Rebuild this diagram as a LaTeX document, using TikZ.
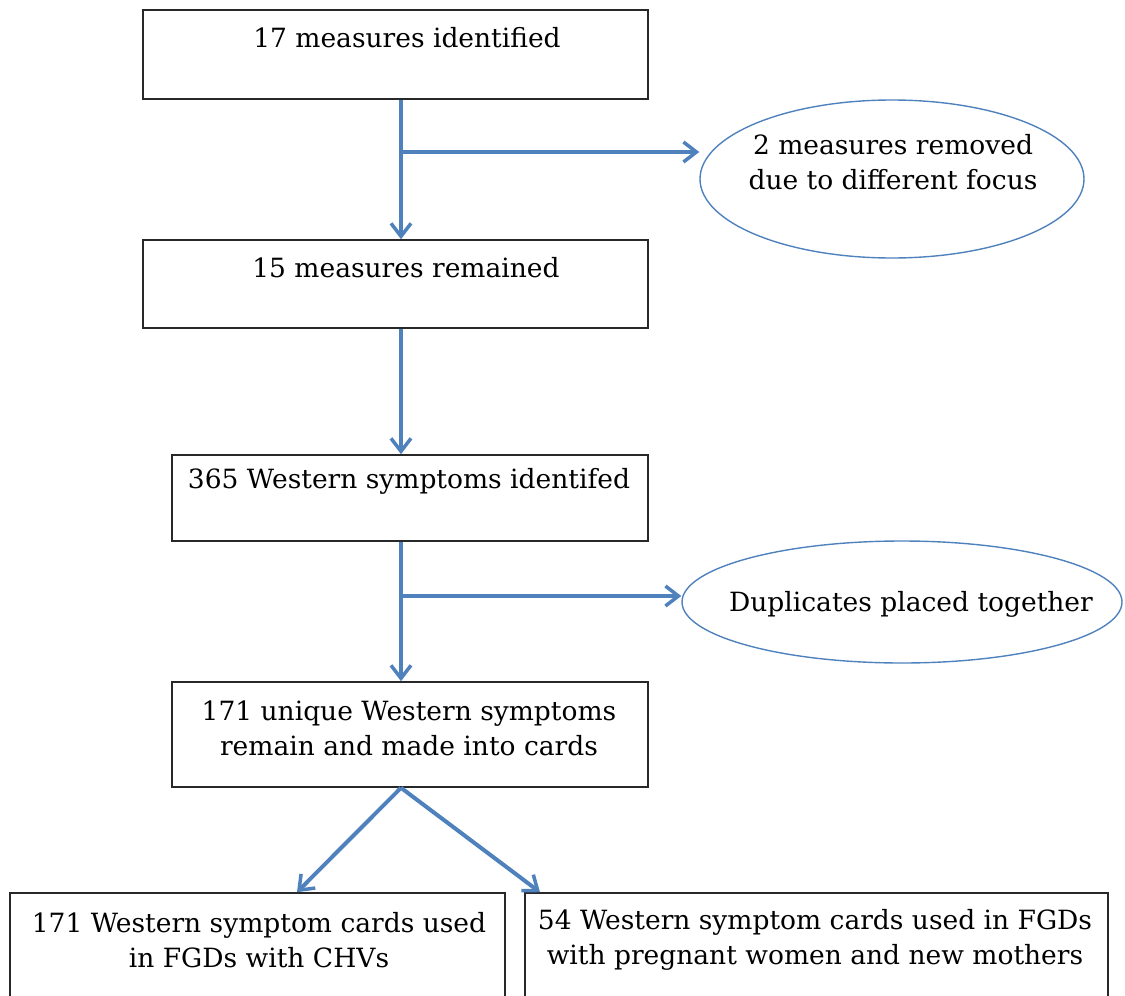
\documentclass[tikz,border=0pt]{standalone}
\usepackage{fontspec}
\setmainfont{DejaVu Serif}
\usetikzlibrary{arrows.meta,shapes.geometric}
\definecolor{flowblue}{RGB}{79,129,189}
\definecolor{boxline}{RGB}{40,40,40}
\begin{document}
\begin{tikzpicture}[x=1pt,y=-1pt,
  box/.style={draw=boxline,line width=1.6pt,rectangle,inner sep=0pt},
  oval/.style={draw=flowblue,line width=1.4pt,ellipse,inner sep=0pt},
  txt/.style={inner sep=0pt,align=center,font=\fontsize{26.5}{35}\selectfont},
  flow/.style={draw=flowblue,line width=4pt,-{Straight Barb[length=13pt,width=20pt,line width=3.5pt]}},
  flowline/.style={draw=flowblue,line width=4pt}]
\useasboundingbox (0,0) rectangle (1125,996);
\clip (0,0) rectangle (1125,996);
% boxes
\node[box,minimum width=505pt,minimum height=89pt] (b1) at (395.5,54.5) {};
\node[box,minimum width=505pt,minimum height=88pt] (b2) at (395.5,284) {};
\node[box,minimum width=476pt,minimum height=86pt] (b3) at (410,498) {};
\node[box,minimum width=476pt,minimum height=105pt] (b4) at (410,734.5) {};
\node[box,minimum width=495pt,minimum height=130pt] (b5) at (257.5,958) {};
\node[box,minimum width=583pt,minimum height=130pt] (b6) at (816.5,958) {};
% ellipses
\node[oval,minimum width=384pt,minimum height=158pt] (e1) at (892,179) {};
\node[oval,minimum width=440pt,minimum height=122pt] (e2) at (902,602) {};
% texts
\node[txt] (t1) at (407,38) {17 measures identified};
\node[txt] (t2) at (406,268) {15 measures remained};
\node[txt] (t3) at (409,481) {365 Western symptoms identifed};
\node[txt] (t4) at (409,728) {171 unique Western symptoms\\remain and made into cards};
\node[txt] (t5) at (259,940) {171 Western symptom cards used\\in FGDs with CHVs};
\node[txt] (t6) at (815,940) {54 Western symptom cards used in FGDs\\with pregnant women and new mothers};
\node[txt] (te1) at (893,162) {2 measures removed\\due to different focus};
\node[txt] (te2) at (911,604) {Duplicates placed together};
% junctions
\coordinate (j1) at (401,152);
\coordinate (j2) at (401,596);
% connectors
\draw[flow] ([xshift=5.5pt]b1.south) -- ([xshift=5.5pt]b2.north);
\draw[flow] (j1) -- (j1 -| e1.west);
\draw[flow] ([xshift=5.5pt]b2.south) -- ([xshift=5.5pt]b3.north west -| b2.south);
\draw[flow] ([xshift=-9pt]b3.south) -- ([xshift=-9pt]b4.north);
\draw[flow] (j2) -- (j2 -| e2.west);
\draw[flow] ([xshift=-9pt]b4.south) -- ([xshift=39.5pt]b5.north);
\draw[flow] ([xshift=-9pt]b4.south) -- ([xshift=-276.5pt]b6.north);
\end{tikzpicture}
\end{document}
